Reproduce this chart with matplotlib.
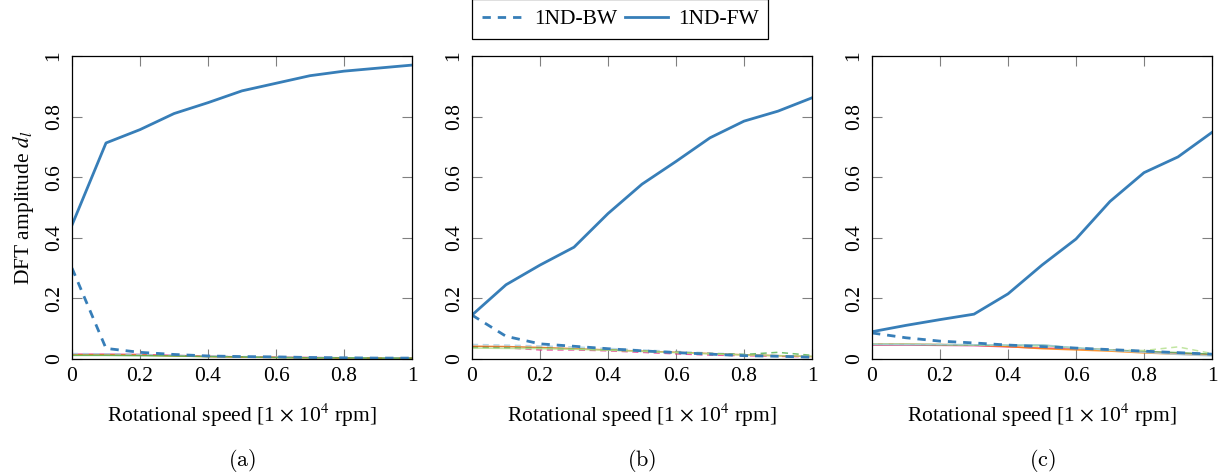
import numpy as np
import matplotlib
matplotlib.use('Agg')
from matplotlib import pyplot as plt
from matplotlib.ticker import FuncFormatter

plt.rcParams['font.family'] = ['Liberation Serif', 'DejaVu Serif']
plt.rcParams['mathtext.fontset'] = 'stix'

speed = [0.0, 0.1, 0.2, 0.3, 0.4, 0.5, 0.6, 0.7, 0.8, 0.9, 1.0]

fw_a = [0.442, 0.713, 0.757, 0.810, 0.846, 0.885, 0.910, 0.935, 0.950, 0.960, 0.970]
bw_a = [0.300, 0.035, 0.022, 0.015, 0.010, 0.008, 0.007, 0.005, 0.004, 0.003, 0.003]
fw_b = [0.145, 0.245, 0.310, 0.369, 0.480, 0.577, 0.652, 0.730, 0.785, 0.818, 0.862]
bw_b = [0.145, 0.075, 0.050, 0.042, 0.034, 0.027, 0.021, 0.016, 0.011, 0.009, 0.006]
fw_c = [0.090, 0.111, 0.130, 0.148, 0.215, 0.310, 0.396, 0.520, 0.615, 0.667, 0.748]
bw_c = [0.086, 0.070, 0.059, 0.053, 0.046, 0.041, 0.036, 0.031, 0.026, 0.021, 0.016]

# faint higher-mode curves (colour, dashed?, values)
others_a = [
    ('#e7298a', False, [0.016, 0.016, 0.015, 0.012, 0.009, 0.007, 0.006, 0.005, 0.004, 0.003, 0.003]),
    ('#ff7f00', False, [0.014, 0.014, 0.013, 0.010, 0.008, 0.006, 0.005, 0.004, 0.003, 0.003, 0.002]),
    ('#a6cee3', True, [0.018, 0.017, 0.015, 0.012, 0.010, 0.008, 0.006, 0.005, 0.004, 0.004, 0.003]),
    ('#4daf4a', False, [0.012, 0.012, 0.011, 0.010, 0.008, 0.007, 0.005, 0.004, 0.004, 0.003, 0.003]),
]
others_b = [
    ('#a6cee3', True, [0.048, 0.046, 0.043, 0.040, 0.035, 0.030, 0.025, 0.020, 0.015, 0.011, 0.008]),
    ('#e7298a', True, [0.040, 0.037, 0.030, 0.030, 0.027, 0.022, 0.017, 0.013, 0.011, 0.009, 0.007]),
    ('#d95f02', False, [0.042, 0.041, 0.038, 0.034, 0.030, 0.026, 0.022, 0.018, 0.014, 0.011, 0.008]),
    ('#4daf4a', True, [0.038, 0.037, 0.036, 0.033, 0.030, 0.026, 0.022, 0.018, 0.015, 0.022, 0.012]),
    ('#b2df8a', False, [0.036, 0.035, 0.034, 0.032, 0.029, 0.025, 0.021, 0.017, 0.013, 0.011, 0.009]),
]
others_c = [
    ('#e7298a', False, [0.046, 0.046, 0.045, 0.044, 0.040, 0.036, 0.034, 0.030, 0.024, 0.019, 0.015]),
    ('#ff7f00', False, [0.050, 0.049, 0.048, 0.046, 0.041, 0.034, 0.030, 0.026, 0.020, 0.016, 0.012]),
    ('#4daf4a', False, [0.048, 0.048, 0.047, 0.046, 0.045, 0.046, 0.036, 0.030, 0.025, 0.021, 0.016]),
    ('#b2df8a', True, [0.050, 0.049, 0.048, 0.047, 0.045, 0.042, 0.036, 0.030, 0.028, 0.040, 0.018]),
    ('#a6cee3', False, [0.049, 0.048, 0.048, 0.047, 0.046, 0.047, 0.037, 0.029, 0.022, 0.015, 0.010]),
]

panels = [('(a)', fw_a, bw_a, others_a),
          ('(b)', fw_b, bw_b, others_b),
          ('(c)', fw_c, bw_c, others_c)]

blue = '#377eb8'


def fmt(v, pos):
    return f'{v:g}'


def main():
    fig = plt.figure(figsize=(12.22, 4.75), dpi=100)
    lefts = [72, 472, 872]
    fs = 15.5
    for i, (cap, fw, bw, others) in enumerate(panels):
        ax = fig.add_axes([lefts[i] / 1222, 116 / 475, 340 / 1222, 303 / 475])
        for col, dashed, vals in others:
            ax.plot(speed, vals, color=col, lw=1.1, alpha=0.8,
                    ls=(0, (4, 3)) if dashed else '-')
        ax.plot(speed, bw, color=blue, lw=2, ls=(0, (3, 2.5)), label='1ND-BW')
        ax.plot(speed, fw, color=blue, lw=2, label='1ND-FW')
        ax.set_xlim(0, 1)
        ax.set_ylim(0, 1)
        ax.set_xticks([0, 0.2, 0.4, 0.6, 0.8, 1])
        ax.set_yticks([0, 0.2, 0.4, 0.6, 0.8, 1])
        ax.xaxis.set_major_formatter(FuncFormatter(fmt))
        ax.yaxis.set_major_formatter(FuncFormatter(fmt))
        ax.tick_params(direction='in', top=True, right=True, length=7,
                       width=0.8, color='#808080', labelsize=fs, pad=6)
        for lab in ax.get_yticklabels():
            lab.set_rotation(90)
            lab.set_va('center')
        for s in ax.spines.values():
            s.set_linewidth(0.9)
        ax.set_xlabel(r'Rotational speed [1 $\times$ 10$^4$ rpm]', fontsize=fs, labelpad=11)
        if i == 0:
            ax.set_ylabel(r'DFT amplitude $d_l$', fontsize=fs, labelpad=6)
            handles, labels = ax.get_legend_handles_labels()
        fig.text((lefts[i] + 170) / 1222, 1 - 460 / 475, r'$\mathrm{' + cap + '}$',
                 ha='center', va='center', fontsize=16, math_fontfamily='cm')

    leg = fig.legend(handles, labels, loc='center', bbox_to_anchor=(620 / 1222, 1 - 19 / 475),
                     ncol=2, fancybox=False, edgecolor='black', framealpha=1,
                     fontsize=fs, handlelength=2.0, handletextpad=0.45,
                     columnspacing=0.35, borderpad=0.45)
    leg.get_frame().set_linewidth(0.9)
    fig.savefig('out.png', dpi=100)


if __name__ == '__main__':
    main()
